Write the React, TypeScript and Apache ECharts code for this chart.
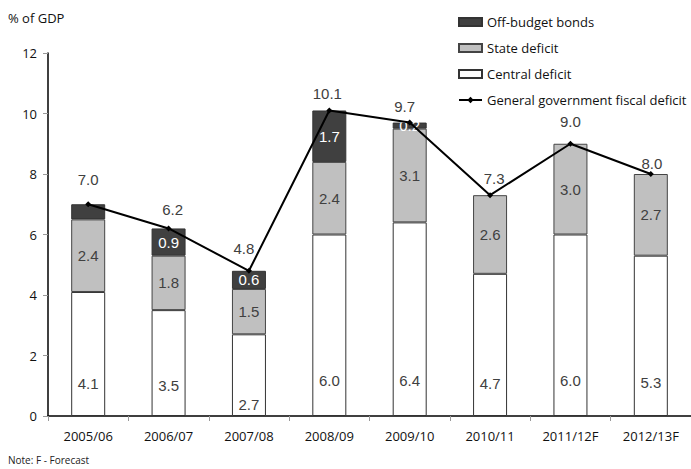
import React, { useEffect, useRef } from "react";
import * as echarts from "echarts";

const categories = ["2005/06", "2006/07", "2007/08", "2008/09", "2009/10", "2010/11", "2011/12F", "2012/13F"];
const centralDeficit = [4.1, 3.5, 2.7, 6.0, 6.4, 4.7, 6.0, 5.3];
const stateDeficit = [2.4, 1.8, 1.5, 2.4, 3.1, 2.6, 3.0, 2.7];
const offBudgetBonds = [0.5, 0.9, 0.6, 1.7, 0.2, null, null, null];
const generalDeficit = [7.0, 6.2, 4.8, 10.1, 9.7, 7.3, 9.0, 8.0];
const yTicks = [0, 2, 4, 6, 8, 10, 12];

// label layout (pixel offsets), not data
const lineLabelDx = [0, 4, -5, -2, -5, 4, 0, 1];
const lineLabelDy = [-25, -19, -22, -17, -16, -17, -22, -11];
const centralLabelDist = [25, 23, 4, 28, 28, 25, 28, 26];
const offBudgetLabelShow = [false, true, true, true, true, false, false, false];

const FONT = "'Open Sans', sans-serif";
const LFONT = "'Liberation Sans', Arial, sans-serif";

export default function App() {
  const ref = useRef<HTMLDivElement>(null);
  useEffect(() => {
    if (!ref.current) return;
    const chart = echarts.init(ref.current, null, { renderer: "svg" });
    const barLabel = { fontFamily: LFONT, fontSize: 15, color: "#404040" };
    chart.setOption({
      animation: false,
      backgroundColor: "#ffffff",
      grid: { left: 48, top: 53, height: 363, width: 654, containLabel: false },
      legend: {
        orient: "vertical",
        left: 453,
        top: 10,
        itemWidth: 23,
        itemHeight: 8,
        itemGap: 12,
        data: [
          { name: "Off-budget bonds", icon: "rect" },
          { name: "State deficit", icon: "rect" },
          { name: "Central deficit", icon: "rect" },
          { name: "General government fiscal deficit" },
        ],
        textStyle: { fontFamily: FONT, fontSize: 13, color: "#111", lineHeight: 14 },
      },
      graphic: [
        { type: "text", left: 8, top: 11, style: { text: "% of GDP", fontFamily: FONT, fontSize: 13, fill: "#111" } },
        { type: "text", left: 8, top: 455, style: { text: "Note: F - Forecast", fontFamily: FONT, fontSize: 10, fill: "#222" } },
      ],
      xAxis: {
        type: "category",
        data: categories,
        axisLine: { lineStyle: { color: "#000", width: 1.5 } },
        axisTick: { show: true, length: 5, lineStyle: { color: "#999" } },
        axisLabel: { fontFamily: FONT, fontSize: 13, color: "#111", margin: 13 },
      },
      yAxis: {
        type: "value",
        min: 0,
        max: 12,
        interval: 2,
        splitLine: { show: false },
        axisLine: { show: true, lineStyle: { color: "#000", width: 1.5 } },
        axisTick: { show: true, length: 5, lineStyle: { color: "#999" } },
        axisLabel: {
          fontFamily: FONT,
          fontSize: 13,
          color: "#111",
          margin: 11,
          formatter: (v: number) => (yTicks.includes(v) ? String(v) : ""),
        },
      },
      series: [
        {
          name: "Central deficit",
          type: "bar",
          stack: "total",
          barWidth: 34,
          itemStyle: { color: "#ffffff", borderColor: "#333", borderWidth: 1 },
          data: centralDeficit.map((v, i) => ({
            value: v,
            label: { distance: centralLabelDist[i] },
          })),
          label: { show: true, position: "insideBottom", formatter: (p: any) => p.value.toFixed(1), ...barLabel },
        },
        {
          name: "State deficit",
          type: "bar",
          stack: "total",
          barWidth: 34,
          itemStyle: { color: "#c0c0c0", borderColor: "#444", borderWidth: 1 },
          data: stateDeficit,
          label: { show: true, position: "inside", formatter: (p: any) => p.value.toFixed(1), ...barLabel },
        },
        {
          name: "Off-budget bonds",
          type: "bar",
          stack: "total",
          barWidth: 34,
          itemStyle: { color: "#404040", borderColor: "#333", borderWidth: 1 },
          data: offBudgetBonds.map((v, i) => ({
            value: v,
            label: { show: offBudgetLabelShow[i] },
          })),
          label: {
            show: true,
            position: "inside",
            formatter: (p: any) => (p.value == null ? "" : Number(p.value).toFixed(1)),
            ...barLabel,
            color: "#ffffff",
          },
        },
        {
          name: "General government fiscal deficit",
          type: "line",
          z: 5,
          symbol: "diamond",
          symbolSize: 6,
          lineStyle: { color: "#000", width: 2 },
          itemStyle: { color: "#000" },
          data: generalDeficit.map((v, i) => ({
            value: v,
            label: { offset: [lineLabelDx[i], lineLabelDy[i]] },
          })),
          label: {
            show: true,
            position: "inside",
            formatter: (p: any) => p.value.toFixed(1),
            ...barLabel,
          },
        },
      ],
    });
    return () => chart.dispose();
  }, []);
  return <div ref={ref} style={{ position: "fixed", left: 0, top: 0, width: 691, height: 469 }} />;
}
